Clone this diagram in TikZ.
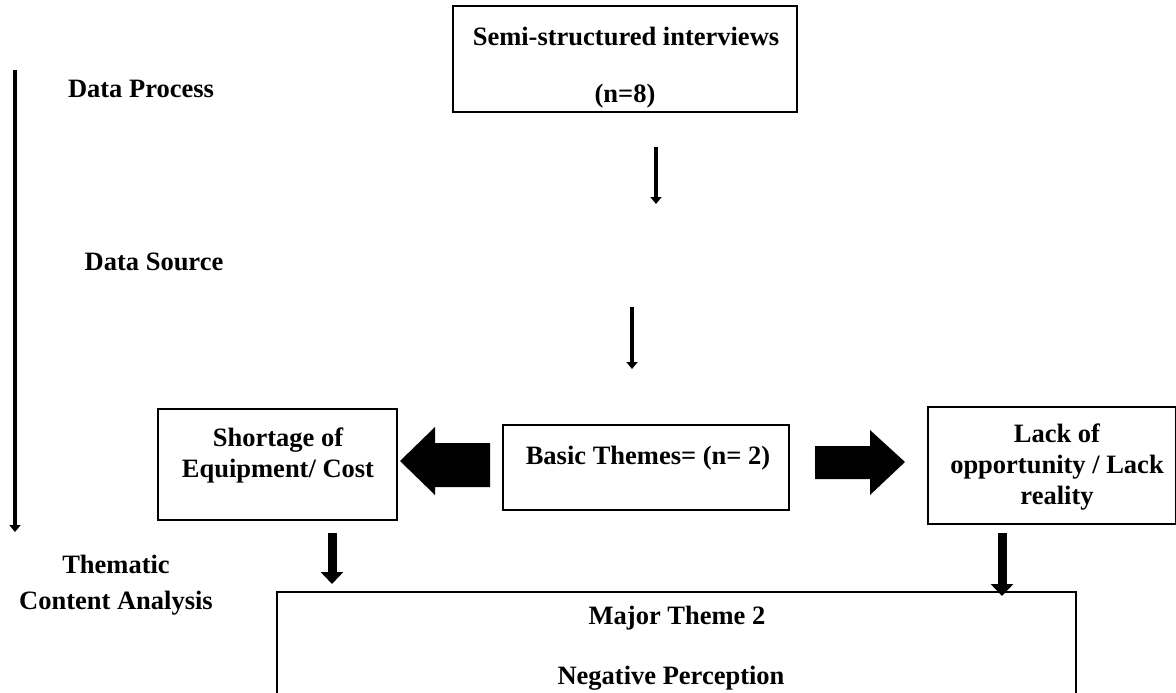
\documentclass[tikz,border=0pt]{standalone}
\usepackage{fontspec}
\setmainfont{Liberation Serif}
\usetikzlibrary{arrows.meta}
\begin{document}
\begin{tikzpicture}[x=1pt,y=-1pt,
  box/.style={draw=black,line width=1.6pt,fill=white,inner sep=0pt},
  txt/.style={font=\fontsize{26.5}{31}\selectfont\bfseries,inner sep=0pt,align=center},
  thin/.style={line width=4pt,-{Triangle[width=11pt,length=7pt]}},
  thick/.style={line width=9pt,-{Triangle[width=22pt,length=12pt]}},
  block/.style={fill=black}]
\clip (0,0) rectangle (1176,693);
\fill[white] (0,0) rectangle (1176,693);
% boxes
\node[box,minimum width=344pt,minimum height=106pt] (top) at (625,59) {};
\node[box,minimum width=239pt,minimum height=111pt] (short) at (277.5,464.5) {};
\node[box,minimum width=286pt,minimum height=85pt] (basic) at (646,467.5) {};
\node[box,minimum width=248pt,minimum height=117pt] (lack) at (1052,465.5) {};
\node[box,minimum width=799pt,minimum height=140pt] (major) at (676.5,662) {};
% texts
\node[txt] (t1) at (626,36) {Semi-structured interviews};
\node[txt] (t2) at (625,96) {(n=8)};
\node[txt] (t3) at (278,455) {Shortage of\\Equipment/ Cost};
\node[txt] (t4) at (648,458) {Basic Themes= (n= 2)};
\node[txt] (t5) at (1057,467) {Lack of\\opportunity / Lack\\reality};
\node[txt] (t6) at (677,618) {Major Theme 2};
\node[txt] (t7) at (671,678) {Negative Perception};
\node[txt] (dp) at (141,89) {Data Process};
\node[txt] (ds) at (154,262) {Data Source};
\node[txt] (tca) at (116,585) {Thematic\\[5pt]Content Analysis};
% side arrow
\coordinate (s1) at (15,70);
\coordinate (s2) at (15,532);
\draw[thin] (s1) -- (s2);
% thin down arrows
\coordinate (a1) at (656,147);
\coordinate (a2) at (656,204);
\draw[thin] (a1) -- (a2);
\coordinate (b1) at (632,307);
\coordinate (b2) at (632,369);
\draw[thin] (b1) -- (b2);
% thick down arrows
\coordinate (c1) at (332,533);
\coordinate (c2) at (332,584);
\draw[thick] (c1) -- (c2);
\coordinate (d1) at (1002,533);
\coordinate (d2) at (1002,596);
\draw[thick] (d1) -- (d2);
% block arrows
\fill[block] (400,461) -- (435,427) -- (435,443) -- (490,443) -- (490,487) -- (435,487) -- (435,495) -- cycle;
\fill[block] (815,446) -- (870,446) -- (870,430) -- (905,462) -- (870,495) -- (870,479) -- (815,479) -- cycle;
\end{tikzpicture}
\end{document}
